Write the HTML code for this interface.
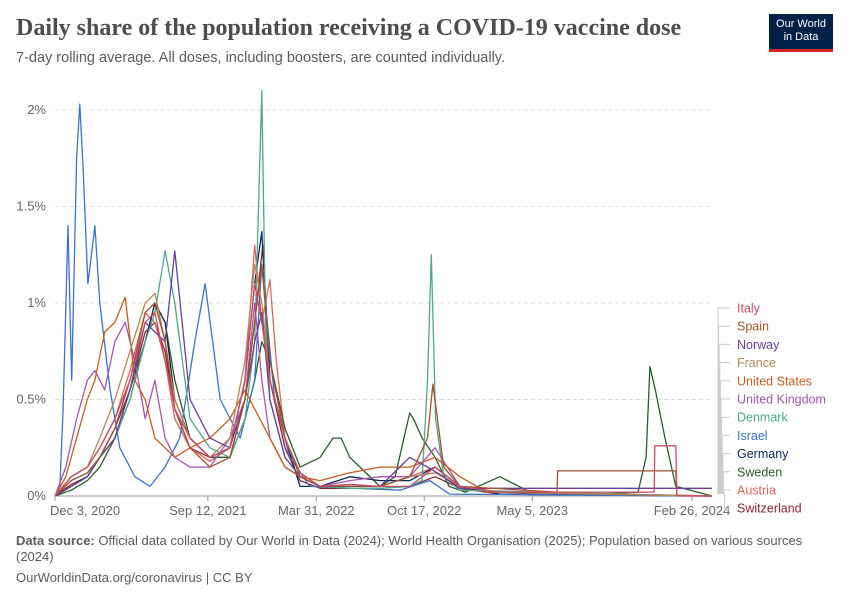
<!DOCTYPE html>
<html><head><meta charset="utf-8">
<style>
body{margin:0;background:#fff;font-family:"Liberation Sans",sans-serif;}
#wrap{position:relative;width:850px;height:600px;overflow:hidden;}
.t{position:absolute;white-space:nowrap;}
</style></head>
<body>
<div id="wrap">
<div class="t" style="left:16px;top:15px;font-family:'Liberation Serif',serif;font-size:24px;font-weight:bold;color:#4d4d4d;">Daily share of the population receiving a COVID-19 vaccine dose</div>
<div class="t" style="left:16px;top:50px;font-size:14.5px;color:#5b5b5b;">7-day rolling average. All doses, including boosters, are counted individually.</div>
<div style="position:absolute;left:769px;top:14px;width:64px;height:38px;background:#002147;border-bottom:3px solid #ce261e;color:#fff;font-size:11px;line-height:13px;text-align:center;padding-top:4px;box-sizing:border-box;">Our World<br>in Data</div>
<svg id="chart" width="850" height="600" style="position:absolute;left:0;top:0"></svg>
<div class="t" style="left:16px;top:533px;font-size:13px;color:#5b5b5b;line-height:16px;white-space:normal;width:800px;"><b>Data source:</b> Official data collated by Our World in Data (2024); World Health Organisation (2025); Population based on various sources (2024)</div>
<div class="t" style="left:16px;top:570px;font-size:13px;color:#5b5b5b;">OurWorldinData.org/coronavirus | CC BY</div>
</div>
<script>
const yTicks=[0,0.5,1,1.5,2];
const yTickLabels=["0%","0.5%","1%","1.5%","2%"];
const xTickDays=[0,283,484,684,884,1180];
const xTickLabels=["Dec 3, 2020","Sep 12, 2021","Mar 31, 2022","Oct 17, 2022","May 5, 2023","Feb 26, 2024"];
const seriesNames=["Italy","Spain","Norway","France","United States","United Kingdom","Denmark","Israel","Germany","Sweden","Austria","Switzerland"];
const seriesColors=["#c84b68","#a2522a","#6a3d9a","#b28a5c","#c65d1f","#a755b0","#4fa889","#3a73c9","#0e2a5a","#2a5e2c","#e0645a","#8b2333"];
const italyDays=[0,30,60,83,111,139,167,185,204,222,250,287,324,352,370,383,398,426,454,491,546,602,657,704,750,824,1110,1111,1150,1152,1217];
const italyVals=[0,0.1,0.15,0.25,0.4,0.6,0.9,0.95,0.7,0.45,0.3,0.2,0.25,0.6,1.1,0.9,0.6,0.3,0.12,0.05,0.06,0.05,0.05,0.15,0.05,0.02,0.02,0.26,0.26,0,0];
const spainDays=[0,30,60,83,111,139,167,185,204,222,250,287,324,352,370,383,398,426,454,491,546,602,657,690,700,720,750,930,931,1150,1152,1217];
const spainVals=[0,0.08,0.12,0.2,0.35,0.6,0.95,1.0,0.8,0.45,0.25,0.15,0.2,0.5,0.9,1.2,0.7,0.3,0.1,0.05,0.05,0.05,0.1,0.3,0.58,0.15,0.05,0.02,0.13,0.13,0,0];
const norwayDays=[0,30,60,83,111,139,167,185,204,222,250,287,324,352,370,383,398,426,454,491,546,602,657,690,720,750,824,1217];
const norwayVals=[0,0.05,0.1,0.2,0.3,0.55,0.9,0.85,0.8,1.27,0.5,0.3,0.25,0.5,0.8,0.95,0.5,0.2,0.1,0.05,0.05,0.05,0.2,0.15,0.1,0.04,0.04,0.04];
const franceDays=[0,30,60,83,111,139,167,185,204,222,250,287,324,352,370,383,398,426,454,491,546,602,657,704,750,824,1217];
const franceVals=[0,0.1,0.15,0.3,0.5,0.75,1.0,1.05,0.8,0.5,0.3,0.2,0.3,0.7,1.2,1.0,0.6,0.3,0.1,0.05,0.05,0.05,0.1,0.12,0.05,0.02,0];
const usDays=[0,20,40,60,74,92,111,130,148,167,185,204,222,250,287,324,352,370,398,426,454,491,546,602,657,704,750,800,1217];
const usVals=[0,0.1,0.3,0.5,0.6,0.85,0.9,1.03,0.6,0.5,0.3,0.25,0.2,0.25,0.3,0.4,0.55,0.45,0.3,0.15,0.1,0.08,0.12,0.15,0.15,0.2,0.1,0.02,0];
const ukDays=[0,20,40,60,74,92,111,130,148,167,185,204,222,250,287,324,352,370,383,398,426,454,491,546,602,657,704,750,824,1217];
const ukVals=[0,0.15,0.4,0.6,0.65,0.55,0.8,0.9,0.7,0.4,0.6,0.3,0.2,0.15,0.15,0.3,0.5,1.0,0.6,0.3,0.15,0.1,0.05,0.08,0.1,0.1,0.25,0.05,0.02,0];
const denmarkDays=[0,30,60,83,111,139,167,185,204,222,250,287,324,352,370,383,390,398,426,454,491,546,602,657,680,690,697,705,720,750,1217];
const denmarkVals=[0,0.08,0.12,0.2,0.3,0.5,0.8,0.95,1.27,1.0,0.4,0.25,0.2,0.4,0.8,2.1,0.9,0.5,0.2,0.1,0.05,0.04,0.04,0.05,0.08,0.6,1.25,0.4,0.1,0.03,0];
const israelDays=[0,9,15,24,31,40,46,52,61,74,83,102,120,148,176,204,231,259,278,306,343,370,383,407,435,472,639,694,731,1217];
const israelVals=[0,0.05,0.45,1.4,0.6,1.75,2.03,1.7,1.1,1.4,1.0,0.55,0.25,0.1,0.05,0.15,0.3,0.8,1.1,0.5,0.3,0.6,1.2,0.5,0.2,0.05,0.03,0.08,0.01,0];
const germanyDays=[0,30,60,83,111,139,167,185,204,222,250,287,324,352,370,383,398,426,454,491,546,602,657,704,750,824,1217];
const germanyVals=[0,0.05,0.1,0.2,0.3,0.5,0.8,1.0,0.9,0.5,0.3,0.2,0.25,0.6,1.1,1.37,0.6,0.3,0.05,0.05,0.1,0.08,0.08,0.15,0.05,0.01,0];
const swedenDays=[0,30,60,83,111,139,167,185,204,222,250,287,324,352,370,383,398,426,454,491,515,530,546,602,630,657,664,680,704,730,760,824,880,900,1000,1080,1095,1102,1112,1130,1150,1217];
const swedenVals=[0,0.03,0.08,0.15,0.3,0.55,0.8,1.0,0.9,0.6,0.3,0.2,0.2,0.4,0.6,0.8,0.7,0.35,0.15,0.2,0.3,0.3,0.2,0.05,0.1,0.43,0.4,0.3,0.2,0.05,0.02,0.1,0.02,0.02,0.01,0.02,0.2,0.67,0.55,0.3,0.05,0];
const austriaDays=[0,30,60,83,111,139,167,185,204,222,250,287,324,352,370,383,398,410,426,454,491,546,602,657,704,750,824,1217];
const austriaVals=[0,0.1,0.15,0.25,0.4,0.65,0.95,0.9,0.7,0.4,0.25,0.18,0.25,0.6,1.3,0.9,1.12,0.7,0.3,0.1,0.05,0.05,0.05,0.1,0.15,0.05,0.02,0];
const switzDays=[0,30,60,83,111,139,167,185,204,222,250,287,324,352,370,385,398,426,454,491,546,602,657,704,750,824,1217];
const switzVals=[0,0.06,0.1,0.2,0.35,0.55,0.85,0.9,0.75,0.45,0.25,0.2,0.2,0.5,0.9,1.3,0.6,0.25,0.08,0.04,0.04,0.04,0.05,0.1,0.04,0.01,0];
const allDays=[italyDays,spainDays,norwayDays,franceDays,usDays,ukDays,denmarkDays,israelDays,germanyDays,swedenDays,austriaDays,switzDays];
const allVals=[italyVals,spainVals,norwayVals,franceVals,usVals,ukVals,denmarkVals,israelVals,germanyVals,swedenVals,austriaVals,switzVals];

const NS="http://www.w3.org/2000/svg";
const svg=document.getElementById('chart');
const X0=55,X1=712,D1=1217,Y0=496,PX_PER_PCT=193;
const xS=d=>X0+(X1-X0)*d/D1;
const yS=v=>Y0-v*PX_PER_PCT;
function mk(tag,attrs){const e=document.createElementNS(NS,tag);for(const k in attrs)e.setAttribute(k,attrs[k]);svg.appendChild(e);return e;}
yTicks.forEach((v,i)=>{
  const g=mk('line',{x1:X0,x2:X1,y1:yS(v),y2:yS(v),stroke:v===0?'#999':'#ddd','stroke-dasharray':v===0?'':'4,3'});
  
  
  const t=mk('text',{x:46,y:yS(v)+4,'text-anchor':'end','font-size':13,fill:'#666','font-family':'Liberation Sans, sans-serif'});
  t.textContent=yTickLabels[i];
  
  
});
xTickDays.forEach((d,i)=>{
  const x=xS(d);
  const tk=mk('line',{x1:x,x2:x,y1:Y0,y2:Y0+5,stroke:'#999'});
  
  
  const anchor=i===0?'start':'middle';
  const t=mk('text',{x:i===0?x-5:x,y:515,'text-anchor':anchor,'font-size':13,fill:'#666','font-family':'Liberation Sans, sans-serif'});
  t.textContent=xTickLabels[i];
  
  
});
for(let s=allDays.length-1;s>=0;s--){
  const pts=allDays[s].map((d,i)=>xS(d).toFixed(1)+','+yS(allVals[s][i]).toFixed(1)).join(' ');
  const p=mk('polyline',{points:pts,fill:'none',stroke:seriesColors[s],'stroke-width':1.3,'stroke-linejoin':'round'});
  
  
}
seriesNames.forEach((n,i)=>{
  const y=308+i*18.2;
  const c=mk('path',{d:`M${718+i*0.6},${494} V${y} H730`,fill:'none',stroke:'#ccc','stroke-width':1});
  
  
  const t=mk('text',{x:737,y:y+4.5,'font-size':12.5,fill:seriesColors[i],'font-family':'Liberation Sans, sans-serif'});
  t.textContent=n;
  
  
});
</script>
</body></html>
